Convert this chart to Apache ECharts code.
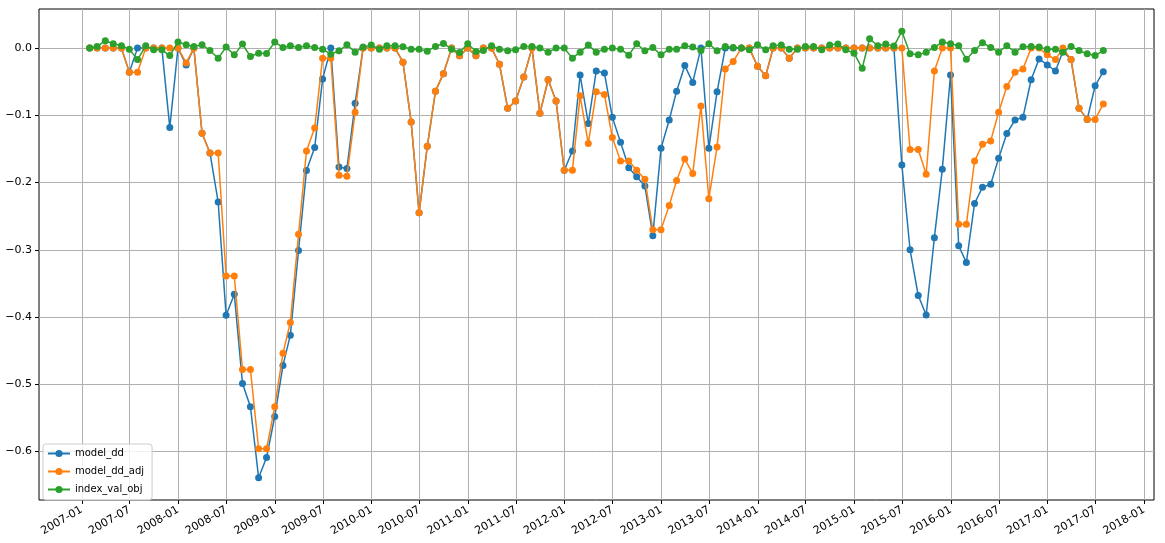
<!DOCTYPE html>
<html>
<head>
<meta charset="utf-8">
<script src="https://cdn.jsdelivr.net/npm/echarts@6/dist/echarts.min.js"></script>
<style>
html,body{margin:0;padding:0;background:#fff;}
#chart{width:1165px;height:543px;}
</style>
</head>
<body>
<div id="chart"></div>
<script>
// Month-end observation months
const months = [
 '2007-01','2007-02','2007-03','2007-04','2007-05','2007-06','2007-07','2007-08','2007-09','2007-10','2007-11','2007-12',
 '2008-01','2008-02','2008-03','2008-04','2008-05','2008-06','2008-07','2008-08','2008-09','2008-10','2008-11','2008-12',
 '2009-01','2009-02','2009-03','2009-04','2009-05','2009-06','2009-07','2009-08','2009-09','2009-10','2009-11','2009-12',
 '2010-01','2010-02','2010-03','2010-04','2010-05','2010-06','2010-07','2010-08','2010-09','2010-10','2010-11','2010-12',
 '2011-01','2011-02','2011-03','2011-04','2011-05','2011-06','2011-07','2011-08','2011-09','2011-10','2011-11','2011-12',
 '2012-01','2012-02','2012-03','2012-04','2012-05','2012-06','2012-07','2012-08','2012-09','2012-10','2012-11','2012-12',
 '2013-01','2013-02','2013-03','2013-04','2013-05','2013-06','2013-07','2013-08','2013-09','2013-10','2013-11','2013-12',
 '2014-01','2014-02','2014-03','2014-04','2014-05','2014-06','2014-07','2014-08','2014-09','2014-10','2014-11','2014-12',
 '2015-01','2015-02','2015-03','2015-04','2015-05','2015-06','2015-07','2015-08','2015-09','2015-10','2015-11','2015-12',
 '2016-01','2016-02','2016-03','2016-04','2016-05','2016-06','2016-07','2016-08','2016-09','2016-10','2016-11','2016-12',
 '2017-01','2017-02','2017-03','2017-04','2017-05','2017-06','2017-07'
];

const model_dd = [
 0,0,0,0,0,-0.036,0,0,0,0,-0.118,0,-0.025,0,-0.1265,-0.156,-0.229,-0.3975,-0.366,-0.499,
 -0.5335,-0.639,-0.609,-0.548,-0.472,-0.427,-0.301,-0.182,-0.148,-0.046,
 0,-0.177,-0.179,-0.082,0,0,0,0,0,-0.021,
 -0.110,-0.245,-0.146,-0.064,-0.038,0,-0.0115,0,-0.0115,0,
 0,-0.024,-0.0896,-0.0786,-0.043,0,-0.097,-0.047,-0.0786,-0.1816,
 -0.153,-0.040,-0.112,-0.034,-0.037,-0.103,-0.140,-0.178,-0.1915,-0.205,
 -0.279,-0.149,-0.107,-0.064,-0.026,-0.051,0,-0.149,-0.065,0,
 0,0,0,-0.027,-0.041,0,0,-0.015,0,0,
 0,0,0,0,0,0,0,0,0,0,
 0,-0.174,-0.300,-0.368,-0.397,-0.282,-0.180,-0.040,-0.294,-0.319,
 -0.231,-0.207,-0.2025,-0.164,-0.127,-0.107,-0.103,-0.047,-0.016,-0.025,
 -0.034,-0.005,-0.017,-0.0896,-0.106,-0.056,-0.035
];

const model_dd_adj = [
 0,0,0,0,0,-0.036,-0.036,0,0,0,0,0,-0.022,0,-0.1265,-0.156,-0.156,-0.339,-0.339,-0.478,
 -0.478,-0.596,-0.596,-0.5335,-0.454,-0.408,-0.277,-0.153,-0.119,-0.015,
 -0.015,-0.189,-0.1905,-0.0955,0,0,0,0,0,-0.021,
 -0.110,-0.245,-0.146,-0.064,-0.038,0,-0.0115,0,-0.0115,0,
 0,-0.024,-0.0896,-0.0786,-0.043,0,-0.097,-0.047,-0.0786,-0.1816,
 -0.1816,-0.071,-0.142,-0.065,-0.069,-0.133,-0.168,-0.168,-0.1816,-0.195,
 -0.270,-0.270,-0.234,-0.197,-0.165,-0.1866,-0.086,-0.224,-0.147,-0.031,
 -0.020,0,0,-0.027,-0.041,0,0,-0.015,0,0,
 0,0,0,0,0,0,0,0,0,0,
 0,0,-0.1508,-0.1508,-0.1876,-0.034,0,0,-0.262,-0.262,
 -0.168,-0.143,-0.138,-0.0955,-0.057,-0.036,-0.031,0,0,-0.010,
 -0.017,0,-0.017,-0.0896,-0.106,-0.106,-0.083
];

const index_val_obj = [
 0,0.0025,0.011,0.0065,0.0035,-0.0015,-0.017,0.0035,-0.0025,-0.0025,
 -0.011,0.009,0.005,0.0025,0.005,-0.0035,-0.015,0.0015,-0.010,0.006,
 -0.0125,-0.0075,-0.008,0.009,0.001,0.0035,0.001,0.0035,0.001,-0.0015,
 -0.009,-0.004,0.005,-0.006,0.0015,0.0045,-0.0015,0.0035,0.0035,0.002,
 -0.0015,-0.0015,-0.0045,0.0025,0.007,-0.0015,-0.0065,0.0065,-0.005,-0.0035,
 0.0035,-0.0015,-0.004,-0.0025,0.0025,0.0025,0,-0.006,0,0,
 -0.015,-0.006,0.0045,-0.006,-0.0015,0,-0.0015,-0.0105,0.0065,-0.004,
 0.001,-0.010,-0.0015,-0.0015,0.0035,0.0015,-0.0035,0.0065,-0.004,0.0025,
 0.001,0,-0.0025,0.005,-0.0025,0.0035,0.0045,-0.0015,-0.0015,0.0025,
 0.0025,-0.0025,0.0045,0.006,-0.0025,-0.0075,-0.030,0.014,0.0035,0.006,
 0.003,0.025,-0.0085,-0.010,-0.006,0.001,0.009,0.0065,0.0035,-0.0165,
 -0.0035,0.008,0.001,-0.006,0.0035,-0.006,0.002,0.0025,0.0015,-0.0015,
 -0.0015,-0.006,0.0025,-0.0035,-0.0085,-0.011,-0.0035
];

const xTickLabels = ['2007-01','2007-07','2008-01','2008-07','2009-01','2009-07','2010-01','2010-07',
 '2011-01','2011-07','2012-01','2012-07','2013-01','2013-07','2014-01','2014-07','2015-01','2015-07',
 '2016-01','2016-07','2017-01','2017-07','2018-01'];
const yTicks = [-0.6,-0.5,-0.4,-0.3,-0.2,-0.1,0.0];
const seriesNames = ['model_dd','model_dd_adj','index_val_obj'];
const colors = ['#1f77b4','#ff7f0e','#2ca02c'];

function monthEnd(s){ const [y,m]=s.split('-').map(Number); return Date.UTC(y, m, 0); }
function monthStart(s){ const [y,m]=s.split('-').map(Number); return Date.UTC(y, m-1, 1); }

const xs = months.map(monthEnd);
const xTicks = xTickLabels.map(monthStart);
const span = xs[xs.length-1]-xs[0];
const xMin = xs[0]-0.05*span, xMax = xs[xs.length-1]+0.05*span;
const allVals = model_dd.concat(model_dd_adj, index_val_obj);
const vMin = Math.min.apply(null, allVals), vMax = Math.max.apply(null, allVals);
const yMin = vMin-0.05*(vMax-vMin), yMax = vMax+0.05*(vMax-vMin);

function pad(n){return n<10?'0'+n:''+n;}
const font = 'DejaVu Sans';

const chart = echarts.init(document.getElementById('chart'), null, {renderer:'canvas'});
const dataSets = [model_dd, model_dd_adj, index_val_obj];
chart.setOption({
  animation:false,
  backgroundColor:'#fff',
  textStyle:{fontFamily:font},
  grid:{left:39, right:11, top:9, bottom:43, show:true, borderColor:'#000', borderWidth:1, backgroundColor:'transparent'},
  legend:{
    orient:'vertical', left:43, top:444,
    data: seriesNames,
    itemWidth:22, itemHeight:9, itemGap:5,
    padding:[3,8,4,4],
    borderColor:'#cccccc', borderWidth:1, borderRadius:3,
    backgroundColor:'rgba(255,255,255,0.8)',
    textStyle:{fontFamily:font, fontSize:10, color:'#000', lineHeight:13}
  },
  xAxis:{
    type:'value', min:xMin, max:xMax,
    axisLine:{show:false, onZero:false},
    axisTick:{show:true, length:4, lineStyle:{color:'#000'}, customValues:xTicks},
    splitLine:{show:true, lineStyle:{color:'#b0b0b0', width:1}, customValues:xTicks},
    axisLabel:{
      customValues:xTicks, rotate:30, margin:9, fontSize:11, color:'#000', fontFamily:font,
      formatter:function(v){const d=new Date(v); return d.getUTCFullYear()+'-'+pad(d.getUTCMonth()+1);}
    }
  },
  yAxis:{
    type:'value', min:yMin, max:yMax,
    axisLine:{show:false, onZero:false},
    axisTick:{show:true, length:4, lineStyle:{color:'#000'}, customValues:yTicks},
    splitLine:{show:true, lineStyle:{color:'#b0b0b0', width:1}, customValues:yTicks},
    axisLabel:{
      customValues:yTicks, margin:7, fontSize:11, color:'#000', fontFamily:font,
      formatter:function(v){ if (Math.abs(v)<1e-9) return '0.0'; return (v<0?'\u2212':'')+Math.abs(v).toFixed(1);}
    }
  },
  series: dataSets.map(function(vals, k){
    return {
      name: seriesNames[k], type:'line',
      data: vals.map(function(v,i){return [xs[i], v];}),
      symbol:'circle', symbolSize:7, showSymbol:true,
      lineStyle:{width:1.5, color:colors[k]},
      itemStyle:{color:colors[k]},
      z: 2+k
    };
  })
});
</script>
</body>
</html>
